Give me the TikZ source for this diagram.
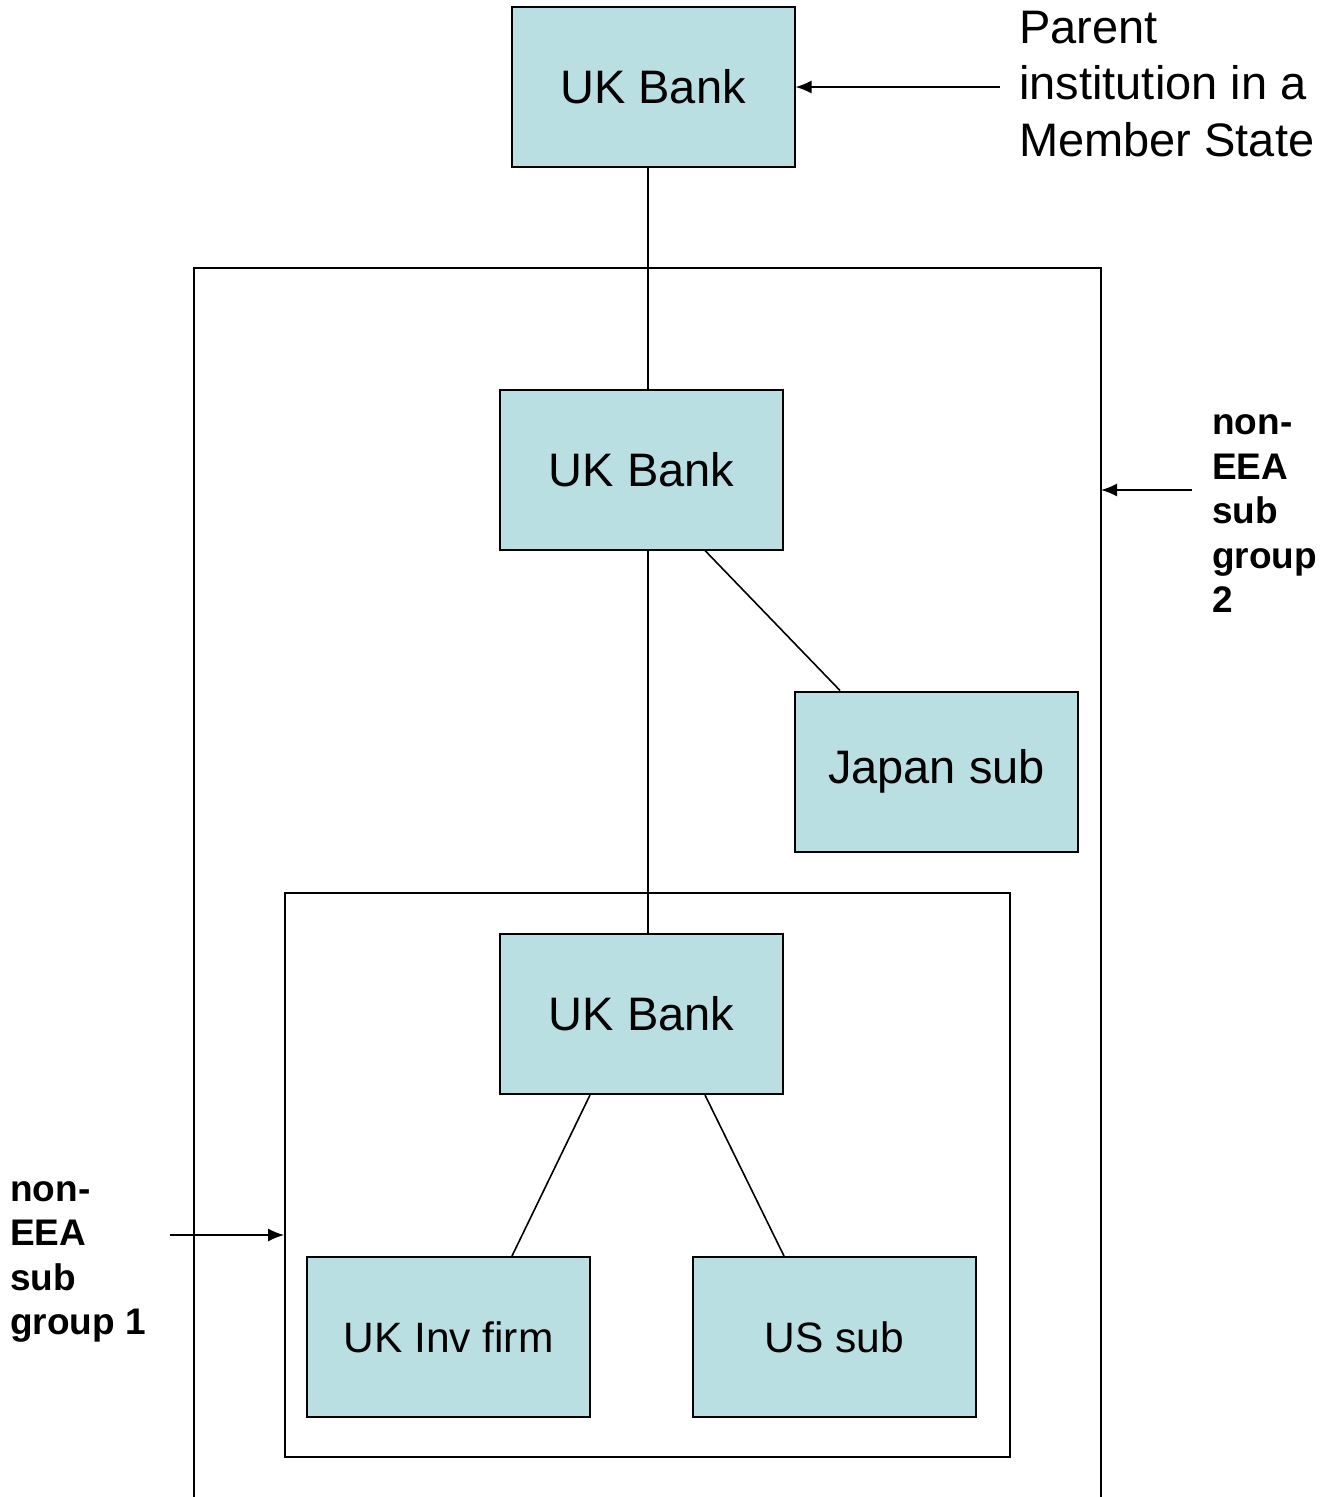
\documentclass[tikz,border=0pt]{standalone}
\usepackage{fontspec}
\setmainfont{Liberation Sans}
\usetikzlibrary{arrows.meta}
\definecolor{boxfill}{HTML}{BADFE3}
\tikzset{
  ent/.style={draw=black, fill=boxfill, line width=2pt, minimum width=283pt, minimum height=160pt, inner sep=0pt,
    font=\fontsize{47}{56}\selectfont},
  entsmall/.style={ent, font=\fontsize{42.5}{50}\selectfont},
  conn/.style={line width=1.6pt},
  arr/.style={line width=1.6pt, -{Latex[length=16pt,width=13pt]}},
  grp/.style={line width=1.8pt},
  blab/.style={anchor=west, align=left, inner sep=0pt, font=\fontsize{37}{44.5}\selectfont\bfseries},
  rlab/.style={anchor=west, align=left, inner sep=0pt, font=\fontsize{47}{56.5}\selectfont}
}
\begin{document}
\begin{tikzpicture}[x=1pt,y=-1pt]
\useasboundingbox (0,0) rectangle (1331,1497);
% outer group (bottom cut off)
\coordinate (obl) at (194,1510);
\coordinate (otl) at (194,268);
\coordinate (otr) at (1101,268);
\coordinate (obr) at (1101,1510);
\draw[grp] (obl) -- (otl) -- (otr) -- (obr);
% inner group
\node[draw, line width=1.8pt, minimum width=725pt, minimum height=564pt, inner sep=0pt] (inner) at (647.5,1175) {};
% entities
\node[ent] (top) at (653,86.5) {UK Bank};
\node[ent] (mid) at (641.5,469.5) {UK Bank};
\node[ent] (jap) at (936.5,771.5) {Japan sub};
\node[ent] (low) at (641.5,1014) {UK Bank};
\node[entsmall] (inv) at (448.5,1337) {UK Inv firm};
\node[entsmall] (us) at (834.5,1337) {US sub};
% connectors
\draw[conn] (top.south -| 648,0) -- (mid.north -| 648,0);
\draw[conn] (mid.south -| 648,0) -- (low.north -| 648,0);
\draw[conn] (mid.south -| 705,0) -- (jap.north -| 840,0);
\draw[conn] (low.south -| 590,0) -- (inv.north -| 512,0);
\draw[conn] (low.south -| 705,0) -- (us.north -| 784,0);
% labels
\node[rlab] (parent) at (1019,84) {Parent\\institution in a\\Member State};
\coordinate (pa) at (1000,87);
\draw[arr] (pa) -- (top.east |- pa);
\node[blab] (g2) at (1212,514) {non-\\EEA\\sub\\group\\2};
\coordinate (g2a) at (1192,490);
\coordinate (g2b) at (1101,490);
\draw[arr] (g2a) -- (g2b);
\node[blab] (g1) at (10,1262) {non-\\EEA\\sub\\group 1};
\coordinate (g1a) at (170,1235);
\draw[arr] (g1a) -- (inner.west |- g1a);
\end{tikzpicture}
\end{document}
